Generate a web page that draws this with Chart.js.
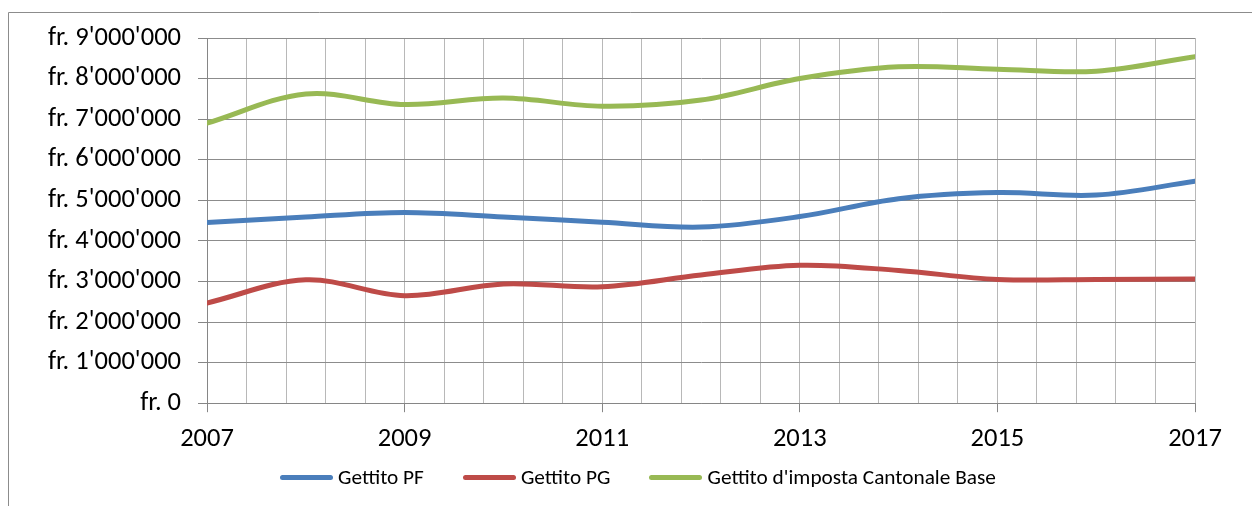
<!DOCTYPE html>
<html lang="it">
<head>
  <meta charset="UTF-8" />
  <title>Gettito</title>
  <style>
    html, body {
      margin: 0;
      padding: 0;
      background: #ffffff;
    }
    #wrap {
      position: relative;
      width: 1252px;
      height: 506px;
    }
    #legend {
      position: absolute;
      left: 280px;
      top: 464px;
      display: flex;
      align-items: center;
      font-family: Carlito, Calibri, Lato, sans-serif;
      font-size: 21.3px;
      color: #000;
      white-space: nowrap;
    }
    .item {
      display: flex;
      align-items: center;
      margin-right: 39px;
    }
    .swatch {
      display: inline-block;
      width: 53px;
      height: 5px;
      border-radius: 3px;
      margin-right: 5px;
    }
  </style>
</head>
<body>
  <div id="wrap">
    <canvas id="chart" width="1252" height="506"></canvas>
    <div id="legend"></div>
  </div>

  <script src="https://cdn.jsdelivr.net/npm/chart.js"></script>
  <script>
    const years = [2007, 2008, 2009, 2010, 2011, 2012, 2013, 2014, 2015, 2016, 2017];
    const gettitoPF = [4450000, 4590000, 4700000, 4590000, 4460000, 4340000, 4600000, 5040000, 5190000, 5130000, 5470000];
    const gettitoPG = [2470000, 3040000, 2650000, 2940000, 2870000, 3160000, 3400000, 3270000, 3050000, 3050000, 3060000];
    const gettitoBase = [6900000, 7620000, 7360000, 7520000, 7320000, 7470000, 8000000, 8290000, 8230000, 8180000, 8540000];

    const FONT = "Carlito, Calibri, Lato, sans-serif";

    const toPoints = (vals) => vals.map((v, i) => ({ x: years[i], y: v }));

    const fmtFr = (v) => "fr. " + Math.round(v).toString().replace(/\B(?=(\d{3})+(?!\d))/g, "'");

    // Excel-style frame round the chart area
    const framePlugin = {
      id: "frame",
      beforeDraw(chart) {
        const ctx = chart.ctx;
        ctx.save();
        ctx.strokeStyle = "#8c8c8c";
        ctx.lineWidth = 1;
        ctx.beginPath();
        ctx.moveTo(8.5, chart.height);
        ctx.lineTo(8.5, 12.5);
        ctx.lineTo(chart.width, 12.5);
        ctx.stroke();
        ctx.restore();
      }
    };

    const line = (label, data, color) => ({
      label,
      data: toPoints(data),
      borderColor: color,
      backgroundColor: color,
      borderWidth: 5,
      borderCapStyle: "round",
      pointRadius: 0,
      pointHoverRadius: 0,
      tension: 0.35,
      fill: false
    });

    const chart = new Chart(document.getElementById("chart"), {
      type: "scatter",
      data: {
        datasets: [
          line("Gettito PF", gettitoPF, "#4a7ebb"),
          line("Gettito PG", gettitoPG, "#be4b48"),
          line("Gettito d'imposta Cantonale Base", gettitoBase, "#98b954")
        ]
      },
      options: {
        responsive: false,
        animation: false,
        showLine: true,
        layout: {
          padding: { left: 0, right: 57, top: 38, bottom: 40 }
        },
        plugins: {
          legend: { display: false },
          tooltip: { enabled: false }
        },
        scales: {
          x: {
            type: "linear",
            min: 2007,
            max: 2017,
            afterBuildTicks: (scale) => {
              const t = [];
              for (let i = 0; i <= 25; i++) t.push({ value: Math.round((2007 + i * 0.4) * 10) / 10 });
              scale.ticks = t;
            },
            ticks: {
              autoSkip: false,
              maxRotation: 0,
              padding: 11,
              color: "#000",
              font: { family: FONT, size: 26.5 },
              callback: (v) => {
                const k = (v - 2007) / 2;
                return Math.abs(k - Math.round(k)) < 1e-6 ? String(Math.round(v)) : "";
              }
            },
            grid: {
              color: "#b8b8b8",
              lineWidth: 1,
              tickLength: 9,
              tickColor: (c) => (c.tick && c.tick.label ? "#868686" : "rgba(0,0,0,0)")
            },
            border: { color: "#868686", width: 1 }
          },
          y: {
            min: 0,
            max: 9000000,
            afterFit: (scale) => { scale.width = 207; },
            ticks: {
              stepSize: 1000000,
              padding: 17,
              color: "#000",
              font: { family: FONT, size: 26.5 },
              callback: (v) => fmtFr(v)
            },
            grid: {
              color: "#8c8c8c",
              lineWidth: 1,
              tickLength: 9,
              tickColor: "#868686"
            },
            border: { color: "#868686", width: 1 }
          }
        }
      },
      plugins: [framePlugin]
    });

    // legend built from the datasets
    const legend = document.getElementById("legend");
    chart.data.datasets.forEach((ds) => {
      const item = document.createElement("span");
      item.className = "item";
      const sw = document.createElement("span");
      sw.className = "swatch";
      sw.style.background = ds.borderColor;
      const txt = document.createElement("span");
      txt.textContent = ds.label;
      item.appendChild(sw);
      item.appendChild(txt);
      legend.appendChild(item);
    });
  </script>
</body>
</html>
